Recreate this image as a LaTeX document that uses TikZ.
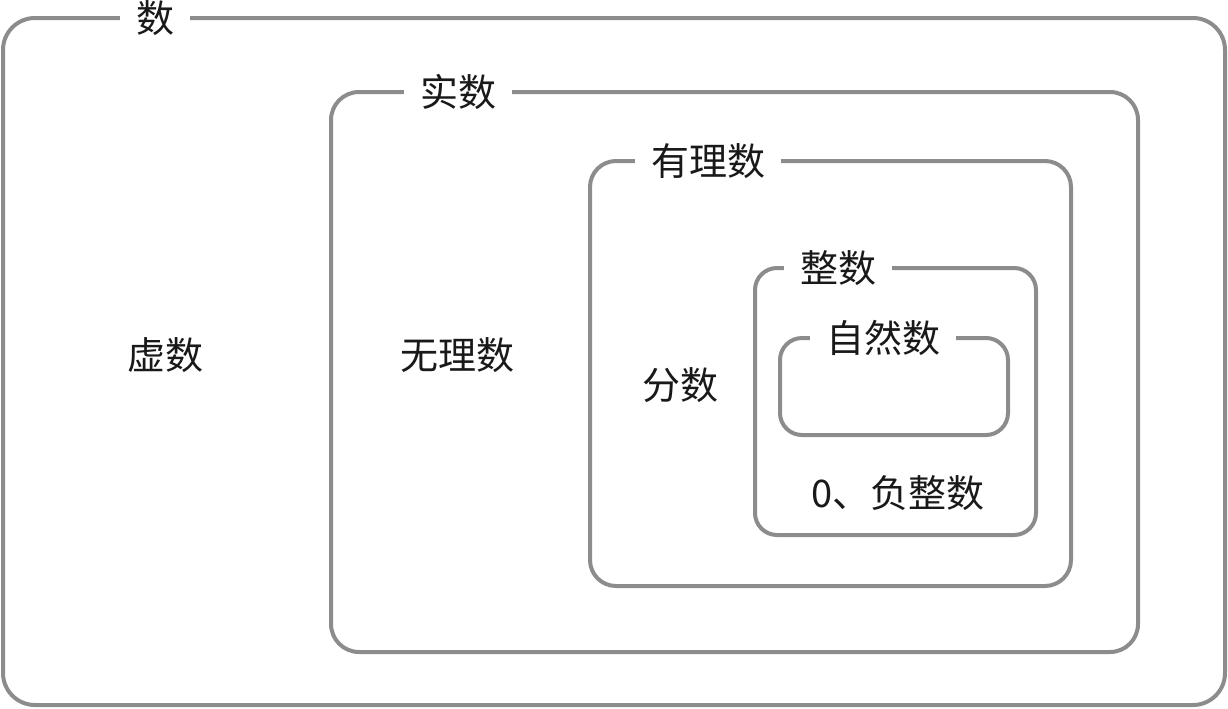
\documentclass[tikz,border=0pt]{standalone}
\usepackage{fontspec}
\setmainfont{Noto Sans CJK SC}
\begin{document}
\begin{tikzpicture}[x=0.5pt,y=-0.5pt,
  setbox/.style={draw=black!45,line width=2pt,rounded corners=#1,inner sep=0pt},
  setbox/.default=15pt,
  tag/.style={fill=white,inner xsep=8pt,inner ysep=1pt,font=\fontsize{19pt}{21pt}\selectfont,text=black!90},
  lbl/.style={font=\fontsize{19pt}{21pt}\selectfont,text=black!90,inner sep=0pt}]
\useasboundingbox (0,0) rectangle (1228,708);
% boxes
\node[setbox=16pt,minimum width=1222*0.5pt,minimum height=687*0.5pt] (shu) at (614,361.5) {};
\node[setbox=14pt,minimum width=807*0.5pt,minimum height=560*0.5pt] (shi) at (734.5,372) {};
\node[setbox=13pt,minimum width=481*0.5pt,minimum height=425*0.5pt] (you) at (830.5,373.5) {};
\node[setbox=11pt,minimum width=281*0.5pt,minimum height=267*0.5pt] (zheng) at (895.5,401.5) {};
\node[setbox=11pt,minimum width=228*0.5pt,minimum height=97*0.5pt] (ziran) at (894,386.5) {};
% tags on the top edges
\node[tag] (tshu) at (155,18) {数};
\node[tag] (tshi) at (458,92) {实数};
\node[tag] (tyou) at (708,161) {有理数};
\node[tag] (tzheng) at (838,268) {整数};
\node[tag] (tziran) at (883,338) {自然数};
% free labels
\node[lbl] (xu) at (165,355) {虚数};
\node[lbl] (wuli) at (457,355) {无理数};
\node[lbl] (fen) at (680,385) {分数};
\node[lbl] (fu) at (898,493) {0、负整数};
\end{tikzpicture}
\end{document}
